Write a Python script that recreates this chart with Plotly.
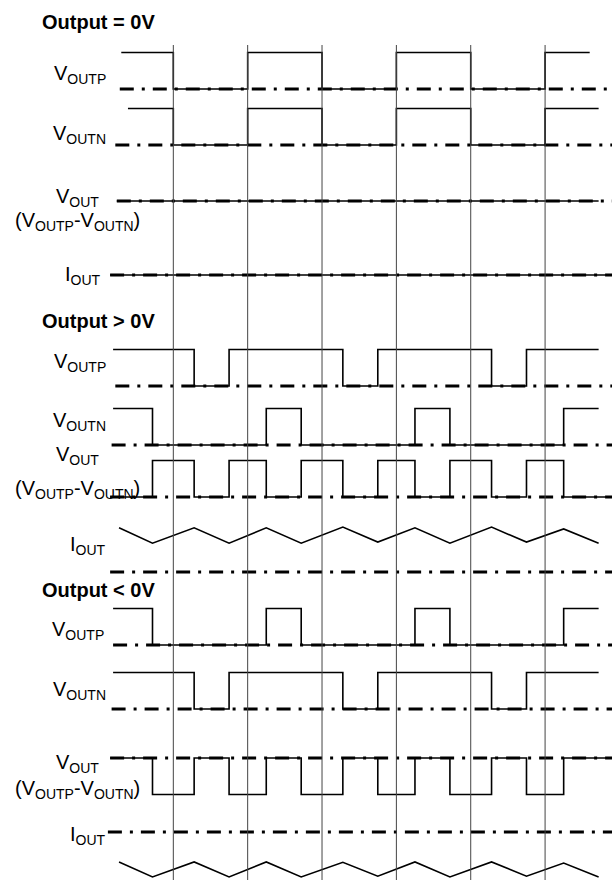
"""
Class-D output stage timing diagram: VOUTP / VOUTN switching, the
differential output and the load current for zero, positive and
negative output.
"""

import plotly.graph_objects as go

# time is measured in switching half-periods; the thin grid lines sit on
# the integer instants
GRID_T = [1, 2, 3, 4, 5, 6]
T_MIN, T_MAX = -1.331, 6.90

SECTION_TITLES = ["Output = 0V", "Output &gt; 0V", "Output &lt; 0V"]

# ---- Output = 0V ----
ZERO_OUTP_T = [0.30, 1, 2, 3, 4, 5, 6, 6.60]
ZERO_OUTP_V = [1, 0, 1, 0, 1, 0, 1, 1]
ZERO_OUTN_T = [0.39, 1, 2, 3, 4, 5, 6, 6.72]
ZERO_OUTN_V = [1, 0, 1, 0, 1, 0, 1, 1]
ZERO_VOUT_T = [0.24, 6.72]
ZERO_VOUT_V = [0, 0]
ZERO_IOUT_T = [0.15, 6.86]
ZERO_IOUT_V = [0, 0]

# ---- Output > 0V ----
POS_OUTP_T = [0.19, 1.28, 1.75, 3.28, 3.75, 5.28, 5.75, 6.72]
POS_OUTP_V = [1, 0, 1, 0, 1, 0, 1, 1]
POS_OUTN_T = [0.19, 0.72, 2.25, 2.72, 4.25, 4.72, 6.25, 6.72]
POS_OUTN_V = [1, 0, 1, 0, 1, 0, 1, 1]
POS_VOUT_T = [0.15, 0.72, 1.28, 1.75, 2.25, 2.72, 3.28, 3.75, 4.25, 4.72, 5.28, 5.75, 6.25, 6.85]
POS_VOUT_V = [0, 1, 0, 1, 0, 1, 0, 1, 0, 1, 0, 1, 0, 0]
POS_IOUT_T = [0.27, 0.72, 1.28, 1.75, 2.25, 2.72, 3.28, 3.75, 4.25, 4.72, 5.28, 5.75, 6.25, 6.72]
POS_IOUT_V = [1.21, 0.79, 1.21, 0.79, 1.21, 0.79, 1.23, 0.82, 1.21, 0.79, 1.23, 0.82, 1.18, 0.79]

# ---- Output < 0V ----
NEG_OUTP_T = [0.19, 0.72, 2.25, 2.72, 4.25, 4.72, 6.25, 6.72]
NEG_OUTP_V = [1, 0, 1, 0, 1, 0, 1, 1]
NEG_OUTN_T = [0.19, 1.28, 1.75, 3.28, 3.75, 5.28, 5.75, 6.72]
NEG_OUTN_V = [1, 0, 1, 0, 1, 0, 1, 1]
NEG_VOUT_T = [0.15, 0.72, 1.28, 1.75, 2.25, 2.72, 3.28, 3.75, 4.25, 4.72, 5.28, 5.75, 6.25, 6.85]
NEG_VOUT_V = [0, -1, 0, -1, 0, -1, 0, -1, 0, -1, 0, -1, 0, 0]
NEG_IOUT_T = [0.27, 0.72, 1.28, 1.75, 2.25, 2.72, 3.28, 3.75, 4.25, 4.72, 5.28, 5.75, 6.25, 6.72]
NEG_IOUT_V = [-0.82, -1.23, -0.82, -1.23, -0.82, -1.23, -0.83, -1.21, -0.82, -1.23, -0.82, -1.21, -0.85, -1.23]

# where each zero-reference (dash-dot) line begins
ZERO_REF_START = [0.28, 0.22, 0.24, 0.15, 0.22, 0.17, 0.15, 0.15, 0.19, 0.17, 0.15, 0.12]

# (time, level, is_step) per row, top to bottom
ROWS = [
    (ZERO_OUTP_T, ZERO_OUTP_V, True), (ZERO_OUTN_T, ZERO_OUTN_V, True),
    (ZERO_VOUT_T, ZERO_VOUT_V, True), (ZERO_IOUT_T, ZERO_IOUT_V, False),
    (POS_OUTP_T, POS_OUTP_V, True), (POS_OUTN_T, POS_OUTN_V, True),
    (POS_VOUT_T, POS_VOUT_V, True), (POS_IOUT_T, POS_IOUT_V, False),
    (NEG_OUTP_T, NEG_OUTP_V, True), (NEG_OUTN_T, NEG_OUTN_V, True),
    (NEG_VOUT_T, NEG_VOUT_V, True), (NEG_IOUT_T, NEG_IOUT_V, False),
]

# layout: pixel row of each zero line, and pixels per unit level
W, H = 612, 880
ROW_ZERO_PX = [89, 145, 201, 275, 386, 445, 497, 572, 645, 709, 758, 832]
AMP_PX = 36.5
FONT = "Liberation Sans, Arial, sans-serif"
DASHDOT = "14px,8px,3px,8px"

fig = go.Figure()
layout_axes = {}
for i, ((t, v, step), zpx) in enumerate(zip(ROWS, ROW_ZERO_PX)):
    ax = "y" if i == 0 else f"y{i + 1}"
    key = "yaxis" if i == 0 else f"yaxis{i + 1}"
    layout_axes[key] = dict(
        range=[(zpx - H) / AMP_PX, zpx / AMP_PX], visible=False, fixedrange=True,
        **({} if i == 0 else dict(overlaying="y")),
    )
    fig.add_trace(go.Scatter(
        x=[ZERO_REF_START[i], T_MAX], y=[0, 0], yaxis=ax, mode="lines",
        line=dict(color="black", width=3, dash=DASHDOT), hoverinfo="skip",
    ))
    fig.add_trace(go.Scatter(
        x=t, y=v, yaxis=ax, mode="lines",
        line=dict(color="black", width=1.6, shape="hv" if step else "linear"),
        hoverinfo="skip",
    ))

for g in GRID_T:
    fig.add_shape(type="line", xref="x", yref="paper", x0=g, x1=g,
                  y0=1 - 45 / H, y1=0, line=dict(color="#444", width=1))


def px_x(p):
    return p / W


def px_y(p):
    return 1 - p / H


annotations = []
for title, ypx in zip(SECTION_TITLES, [22, 321, 590]):
    annotations.append(dict(text=f"<b>{title}</b>", x=px_x(40), y=px_y(ypx),
                            xanchor="left", yanchor="middle", font=dict(size=20)))

single = [
    ("V<sub>OUTP</sub>", 108, 75), ("V<sub>OUTN</sub>", 108, 134), ("I<sub>OUT</sub>", 103, 275),
    ("V<sub>OUTP</sub>", 108, 362), ("V<sub>OUTN</sub>", 108, 421), ("I<sub>OUT</sub>", 108, 545),
    ("V<sub>OUTP</sub>", 106, 630), ("V<sub>OUTN</sub>", 108, 690), ("I<sub>OUT</sub>", 108, 835),
]
for text, xpx, ypx in single:
    annotations.append(dict(text=text, x=px_x(xpx), y=px_y(ypx),
                            xanchor="right", yanchor="middle", font=dict(size=20)))

for ypx in [(197, 221), (455, 490), (763, 789)]:
    annotations.append(dict(text="V<sub>OUT</sub>", x=px_x(77), y=px_y(ypx[0]),
                            xanchor="center", yanchor="middle", font=dict(size=20)))
    annotations.append(dict(text="(V<sub>OUTP</sub>-V<sub>OUTN</sub>)", x=px_x(77), y=px_y(ypx[1]),
                            xanchor="center", yanchor="middle", font=dict(size=20)))

for a in annotations:
    a.update(xref="paper", yref="paper", showarrow=False)
    a["font"].update(family=FONT, color="black")

fig.update_layout(
    width=W, height=H,
    margin=dict(l=0, r=0, t=0, b=0),
    paper_bgcolor="white", plot_bgcolor="white",
    showlegend=False,
    xaxis=dict(range=[T_MIN, T_MAX], visible=False, fixedrange=True),
    annotations=annotations,
    **layout_axes,
)
# the page body's default 8px margin would push the 612x880 figure off the window
fig.write_html("out.html", config={"displayModeBar": False},
               post_script="document.body.style.margin='0';document.body.style.overflow='hidden';")
